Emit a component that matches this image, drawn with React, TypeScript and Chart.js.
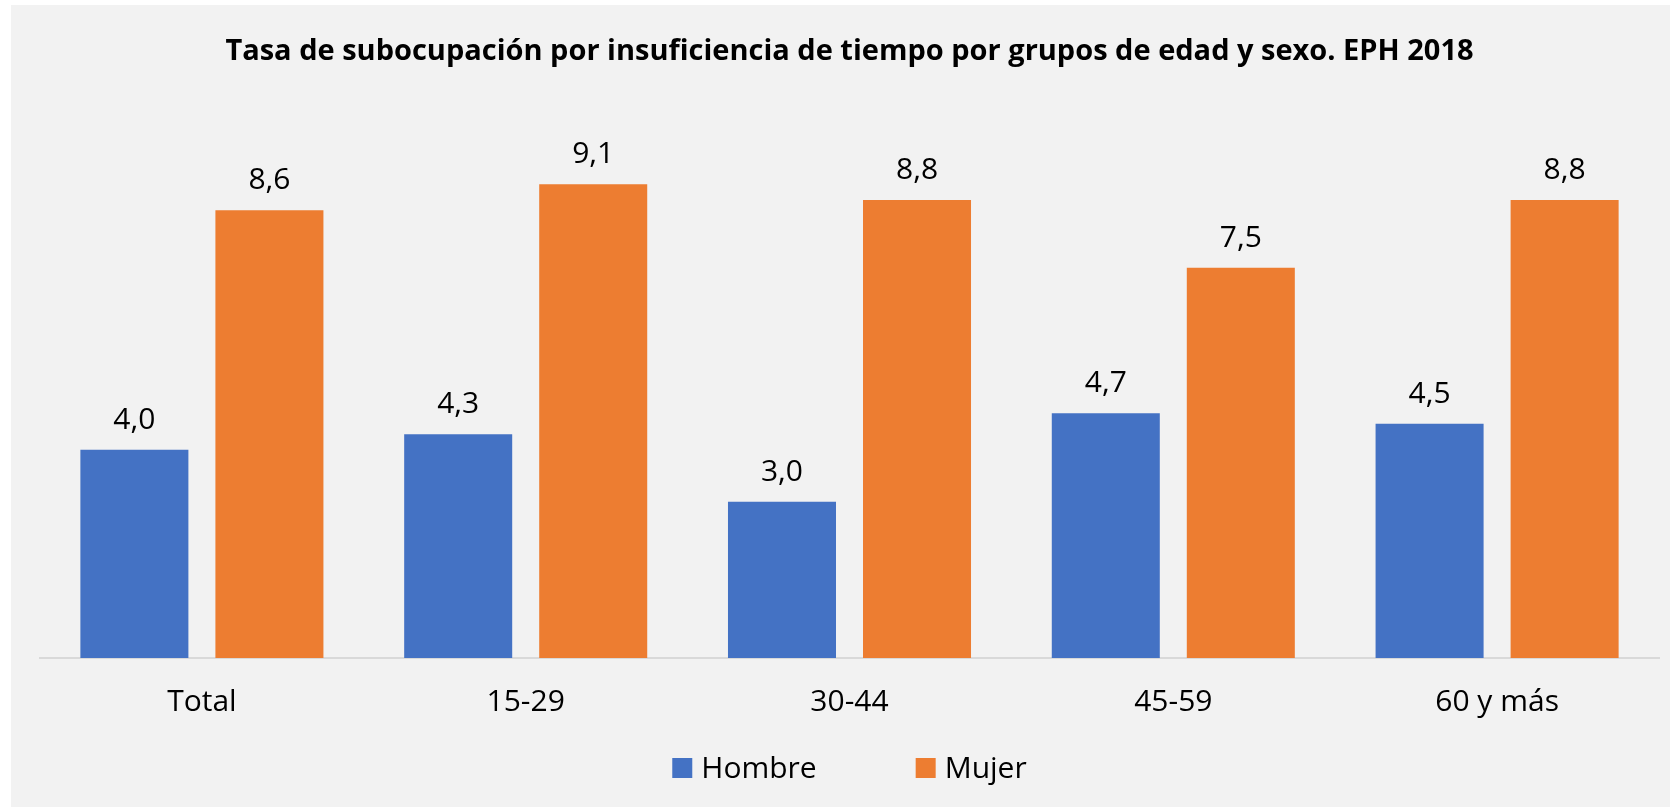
import React, { useEffect, useRef } from "react";
import { Chart, registerables } from "chart.js";

Chart.register(...registerables);

const categories = ["Total", "15-29", "30-44", "45-59", "60 y más"];
const hombreValues = [4.0, 4.3, 3.0, 4.7, 4.5];
const mujerValues = [8.6, 9.1, 8.8, 7.5, 8.8];
const seriesNames = ["Hombre", "Mujer"];
const seriesColors = ["#4472C4", "#ED7D31"];
const titleText =
  "Tasa de subocupación por insuficiencia de tiempo por grupos de edad y sexo. EPH 2018";
const yMin = 0;
const yMax = 10;

const FONT = "'Open Sans', 'Noto Sans', sans-serif";

const valueLabels = {
  id: "valueLabels",
  afterDatasetsDraw(chart: any) {
    const ctx = chart.ctx;
    ctx.save();
    ctx.font = `30px ${FONT}`;
    ctx.fillStyle = "#000";
    ctx.textAlign = "center";
    ctx.textBaseline = "alphabetic";
    chart.data.datasets.forEach((ds: any, i: number) => {
      const meta = chart.getDatasetMeta(i);
      meta.data.forEach((bar: any, j: number) => {
        const v = ds.data[j] as number;
        ctx.fillText(v.toFixed(1).replace(".", ","), bar.x, bar.y - 21);
      });
    });
    ctx.restore();
  },
};

const bottomLegend = {
  id: "bottomLegend",
  afterDraw(chart: any) {
    const ctx = chart.ctx;
    const area = chart.chartArea;
    ctx.save();
    ctx.font = `30px ${FONT}`;
    const box = 20;
    const gap = 9;
    const itemGap = 99;
    const items = chart.data.datasets.map((ds: any) => ({
      text: ds.label as string,
      color: ds.backgroundColor as string,
      w: ctx.measureText(ds.label).width as number,
    }));
    const total =
      items.reduce((s: number, it: any) => s + box + gap + it.w, 0) +
      itemGap * (items.length - 1);
    let x = (area.left + area.right) / 2 - total / 2;
    const cy = chart.height - 39;
    ctx.textAlign = "left";
    ctx.textBaseline = "middle";
    items.forEach((it: any) => {
      ctx.fillStyle = it.color;
      ctx.fillRect(x, cy - box / 2, box, box);
      ctx.fillStyle = "#000";
      ctx.fillText(it.text, x + box + gap, cy + 1);
      x += box + gap + it.w + itemGap;
    });
    ctx.restore();
  },
};

export default function App() {
  const canvasRef = useRef<HTMLCanvasElement | null>(null);

  useEffect(() => {
    if (!canvasRef.current) return;
    const chart = new Chart(canvasRef.current, {
      type: "bar",
      data: {
        labels: categories,
        datasets: [
          {
            label: seriesNames[0],
            data: hombreValues,
            backgroundColor: seriesColors[0],
            categoryPercentage: 0.834,
            barPercentage: 0.8,
          },
          {
            label: seriesNames[1],
            data: mujerValues,
            backgroundColor: seriesColors[1],
            categoryPercentage: 0.834,
            barPercentage: 0.8,
          },
        ],
      },
      options: {
        responsive: false,
        animation: false,
        devicePixelRatio: 1,
        layout: { padding: { left: 29, right: 11, top: 0, bottom: 61 } },
        plugins: {
          legend: { display: false },
          tooltip: { enabled: false },
          title: {
            display: true,
            text: titleText,
            color: "#000",
            font: { family: FONT, size: 29, weight: "bold", lineHeight: 1.2 },
            padding: { top: 29.5, bottom: 68.2 },
          },
        },
        scales: {
          x: {
            grid: { display: false, drawTicks: false },
            border: { display: true, color: "#d9d9d9", width: 2 },
            ticks: {
              color: "#000",
              font: { family: FONT, size: 30 },
              padding: 26,
            },
          },
          y: {
            display: false,
            min: yMin,
            max: yMax,
          },
        },
      },
      plugins: [valueLabels, bottomLegend],
    });
    return () => chart.destroy();
  }, []);

  return (
    <div
      style={{
        position: "absolute",
        left: 11,
        top: 5,
        width: 1659,
        height: 802,
        background: "#f2f2f2",
      }}
    >
      <canvas ref={canvasRef} width={1659} height={802} />
    </div>
  );
}
